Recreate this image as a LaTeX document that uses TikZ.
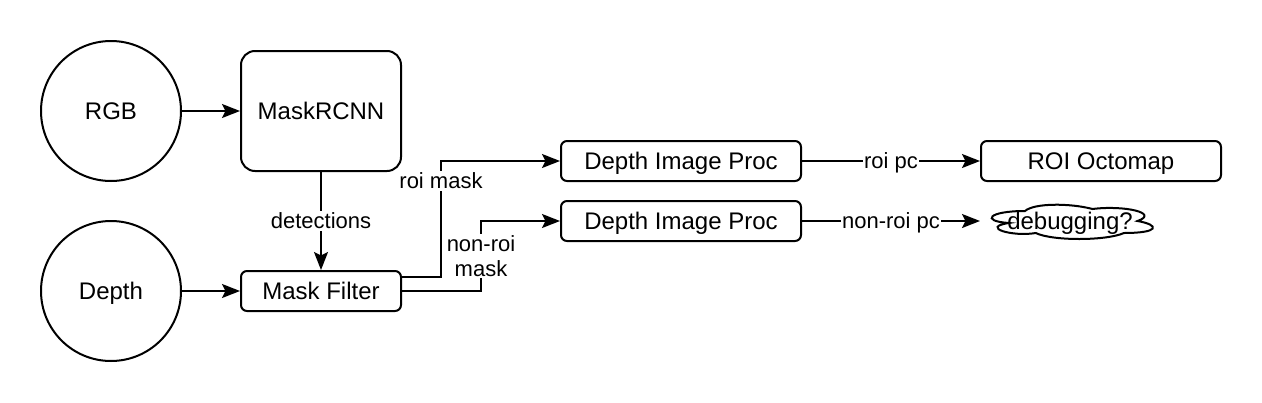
\documentclass[tikz,border=0pt]{standalone}
\usepackage{fontspec}
\setmainfont{Liberation Sans}
\usetikzlibrary{arrows.meta}
\begin{document}
\begin{tikzpicture}[x=1pt,y=-1pt,
  lw/.style={line width=2pt},
  nodefont/.style={font=\fontsize{24}{28}\selectfont,text height=17pt,text depth=0pt},
  lblfont/.style={font=\fontsize{22}{25}\selectfont},
  circ/.style={circle,draw,lw,minimum size=140pt,inner sep=0pt,nodefont},
  bigbox/.style={draw,lw,rounded corners=14pt,minimum width=160pt,minimum height=120pt,inner sep=0pt,nodefont},
  smallbox/.style={draw,lw,rounded corners=6pt,minimum height=40pt,inner sep=0pt,nodefont},
  arr/.style={lw,-{Stealth[length=18pt,width=14pt,inset=3.5pt]}},
  lbl/.style={fill=white,inner sep=1pt,lblfont,align=center},
  lbl1/.style={lbl,text height=15.8pt,text depth=0pt,inner ysep=2pt}]
\useasboundingbox (0,0) rectangle (1262,402);
\node[circ] (rgb) at (111,111) {RGB};
\node[circ] (depth) at (111,291) {Depth};
\node[bigbox] (mrcnn) at (321,111) {MaskRCNN};
\node[smallbox,minimum width=160pt] (mf) at (321,291) {Mask Filter};
\node[smallbox,minimum width=240pt] (dip1) at (681,161) {Depth Image Proc};
\node[smallbox,minimum width=240pt] (dip2) at (681,221) {Depth Image Proc};
\node[smallbox,minimum width=240pt] (roi) at (1101,161) {ROI Octomap};
% cloud (draw.io cloud outline), box 980..1160 x 201..241
\draw[lw] (980+0.25*180,201+0.25*40)
  .. controls (980+0.05*180,201+0.25*40) and (980,201+0.5*40) .. (980+0.16*180,201+0.55*40)
  .. controls (980,201+0.66*40) and (980+0.18*180,201+0.9*40) .. (980+0.31*180,201+0.8*40)
  .. controls (980+0.4*180,241) and (980+0.7*180,241) .. (980+0.8*180,201+0.8*40)
  .. controls (1160,201+0.8*40) and (1160,201+0.6*40) .. (980+0.875*180,201+0.5*40)
  .. controls (1160,201+0.3*40) and (980+0.8*180,201+0.1*40) .. (980+0.625*180,201+0.2*40)
  .. controls (980+0.5*180,201+0.05*40) and (980+0.3*180,201+0.05*40) .. (980+0.25*180,201+0.25*40)
  -- cycle;
\node[nodefont,inner sep=0pt] (cloudtxt) at (1070,221) {debugging?};
\coordinate (cloudin) at (980,221);
\coordinate (mfr1) at ([yshift=14pt]mf.east);
\draw[arr] (rgb) -- (mrcnn);
\draw[arr] (depth) -- (mf);
\draw[arr] (mrcnn) -- node[lbl1] {detections} (mf);
\draw[arr] (mfr1) -- (441,277) -- (441,161) -- (dip1.west);
\node[lbl1] (lroi) at (441,181) {roi mask};
\draw[arr] (mf.east) -- (481,291) -- (481,221) -- (dip2.west);
\node[lbl,font=\fontsize{22}{25}\selectfont] (lnonroi) at (481,256) {non-roi\\mask};
\draw[arr] (dip1) -- node[lbl1] {roi pc} (roi);
\draw[arr] (dip2.east) -- node[lbl1] {non-roi pc} (cloudin);
\end{tikzpicture}
\end{document}
